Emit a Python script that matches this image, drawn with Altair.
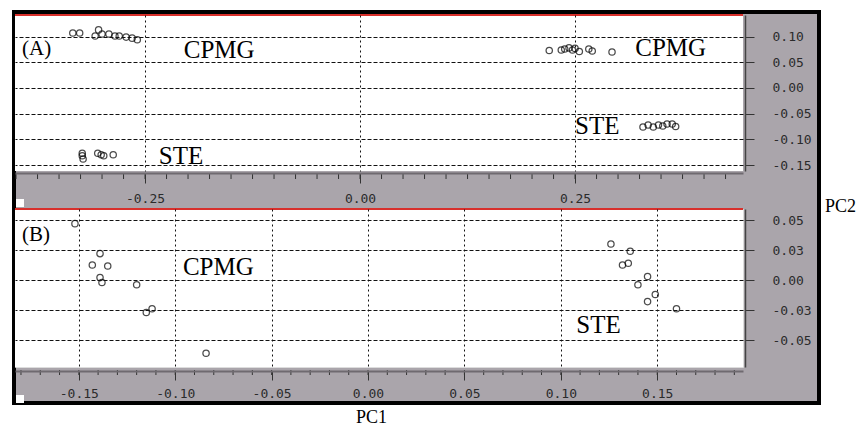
import altair as alt
import pandas as pd

# ---------------- data ----------------
# Panel A
A_CPMG_PC1 = [-0.334, -0.326, -0.308, -0.304, -0.300, -0.292, -0.285, -0.280, -0.272, -0.265, -0.259,
              0.220, 0.234, 0.238, 0.243, 0.247, 0.250, 0.255, 0.266, 0.270, 0.293]
A_CPMG_PC2 = [0.107, 0.107, 0.101, 0.113, 0.105, 0.105, 0.101, 0.101, 0.099, 0.097, 0.094,
              0.073, 0.074, 0.076, 0.078, 0.074, 0.077, 0.071, 0.076, 0.072, 0.070]
A_STE_PC1 = [-0.323, -0.323, -0.322, -0.305, -0.301, -0.298, -0.287,
             0.329, 0.335, 0.341, 0.347, 0.352, 0.357, 0.363, 0.367]
A_STE_PC2 = [-0.127, -0.132, -0.138, -0.127, -0.130, -0.132, -0.130,
             -0.076, -0.072, -0.076, -0.072, -0.074, -0.070, -0.070, -0.075]

# Panel B
B_CPMG_PC1 = [-0.152, -0.139, -0.143, -0.135, -0.139, -0.138, -0.120, -0.115, -0.112, -0.084]
B_CPMG_PC2 = [0.047, 0.022, 0.0125, 0.0117, 0.002, -0.002, -0.004, -0.027, -0.024, -0.061]
B_STE_PC1 = [0.126, 0.136, 0.132, 0.135, 0.145, 0.140, 0.149, 0.145, 0.160]
B_STE_PC2 = [0.030, 0.024, 0.0125, 0.014, 0.003, -0.004, -0.012, -0.018, -0.024]

# annotations
A_LABELS = ["(A)", "CPMG", "STE", "CPMG", "STE"]
A_LABEL_X = [-0.393, -0.205, -0.234, 0.320, 0.250]
A_LABEL_Y = [0.076, 0.073, -0.132, 0.077, -0.074]
A_LABEL_SIZE = [21, 25, 25, 25, 25]

B_LABELS = ["(B)", "CPMG", "STE"]
B_LABEL_X = [-0.1795, -0.096, 0.108]
B_LABEL_Y = [0.0375, 0.0108, -0.0375]
B_LABEL_SIZE = [21, 25, 25]

# ticks
A_X_MAJOR = [-0.25, 0.0, 0.25]
A_X_MINOR = [round(-0.4 + 0.025 * i, 3) for i in range(34)]
A_Y_TICKS = [-0.15, -0.10, -0.05, 0.0, 0.05, 0.10]
B_X_MAJOR = [-0.15, -0.10, -0.05, 0.0, 0.05, 0.10, 0.15]
B_X_MINOR = [round(-0.18 + 0.01 * i, 3) for i in range(38)]
B_Y_TICKS = [-0.05, -0.025, 0.0, 0.025, 0.05]

A_X_DOMAIN = [-0.4012, 0.4453]
A_Y_DOMAIN = [-0.1615, 0.142]
B_X_DOMAIN = [-0.1831, 0.1945]
B_Y_DOMAIN = [-0.0725, 0.0592]

# ---------------- style ----------------
W = 728
HA = 156
HB = 158
GRAY = "#aaa5ab"
RED = "#d8302c"
MONO = "DejaVu Sans Mono"
SERIF = "Liberation Serif"
LBL = "(datum.value < 0 ? '-' : '') + format(abs(datum.value), '.2f')"


def points_df(c1, c2, s1, s2):
    return pd.DataFrame({
        "pc1": c1 + s1,
        "pc2": c2 + s2,
        "grp": ["CPMG"] * len(c1) + ["STE"] * len(s1),
    })


def xaxis(values, offset, tick, pad, title=None, **kw):
    return alt.Axis(values=values, orient="bottom", offset=offset, grid=True,
                    gridDash=[2, 3], gridColor="#111", gridWidth=1,
                    tickSize=tick, tickColor="#333", tickWidth=1,
                    domainColor="#6f6a70", domainWidth=2,
                    labelExpr=LBL, labelFont=MONO, labelFontSize=13,
                    labelColor="#2b2b2b", labelPadding=pad,
                    labelFlush=False, labelOverlap=False, labelBound=False,
                    title=title, zindex=1, **kw)


def yaxis(values, title=None, **kw):
    return alt.Axis(values=values, orient="right", offset=2, grid=True,
                    gridDash=[4, 2], gridColor="#111", gridWidth=1,
                    tickSize=9, tickColor="#333", tickWidth=1,
                    domainColor="#444", domainWidth=1.5,
                    labelExpr=LBL, labelFont=MONO, labelFontSize=13,
                    labelColor="#2b2b2b", labelPadding=18, labelAlign="left",
                    labelBaseline="middle", labelOverlap=False, labelBound=False,
                    title=title, zindex=1, **kw)


one = pd.DataFrame({"k": [0]})


def panel(df, xs, ys, ax_x, ax_y, h, minor, labels, lx, ly, lsize, frame):
    layers = []
    if frame:
        layers.append(alt.Chart(one).mark_rect(fill=GRAY, stroke="black", strokeWidth=4).encode(
            x=alt.value(-1), x2=alt.value(804), y=alt.value(-3), y2=alt.value(388)))
    layers.append(alt.Chart(one).mark_rect(fill="white").encode(
        x=alt.value(0), x2=alt.value(W), y=alt.value(0), y2=alt.value(h)))
    layers.append(alt.Chart(one).mark_rect(fill="white").encode(
        x=alt.value(1), x2=alt.value(9), y=alt.value(h + 28), y2=alt.value(h + 36)))
    layers.append(alt.Chart(one).mark_rule(color=RED, strokeWidth=2).encode(
        x=alt.value(0), x2=alt.value(W), y=alt.value(0)))
    layers.append(alt.Chart(pd.DataFrame({"pc1": minor})).mark_rule(color="#333", strokeWidth=1).encode(
        x=alt.X("pc1:Q", scale=xs, axis=ax_x),
        y=alt.value(h + 3), y2=alt.value(h + 8)))
    layers.append(alt.Chart(df).mark_point(shape="circle", filled=False, color="black",
                                           size=40, strokeWidth=1.25).encode(
        x=alt.X("pc1:Q", scale=xs, axis=ax_x),
        y=alt.Y("pc2:Q", scale=ys, axis=ax_y)))
    tdf = pd.DataFrame({"label": labels, "pc1": lx, "pc2": ly, "s": lsize})
    layers.append(alt.Chart(tdf).mark_text(font=SERIF, align="left", baseline="middle",
                                           color="black").encode(
        x=alt.X("pc1:Q", scale=xs, axis=ax_x),
        y=alt.Y("pc2:Q", scale=ys, axis=ax_y),
        text="label:N",
        size=alt.Size("s:Q", scale=None, legend=None)))
    return alt.layer(*layers).properties(width=W, height=h)


sxA = alt.Scale(domain=A_X_DOMAIN, zero=False, nice=False)
syA = alt.Scale(domain=A_Y_DOMAIN, zero=False, nice=False)
sxB = alt.Scale(domain=B_X_DOMAIN, zero=False, nice=False)
syB = alt.Scale(domain=B_Y_DOMAIN, zero=False, nice=False)

panelA = panel(points_df(A_CPMG_PC1, A_CPMG_PC2, A_STE_PC1, A_STE_PC2), sxA, syA,
               xaxis(A_X_MAJOR, 2, 10, 9),
               yaxis(A_Y_TICKS, title="PC2", titleAngle=0, titleX=95, titleY=191,
                     titleFont=SERIF, titleFontSize=18, titleFontWeight="normal",
                     titleColor="black", titleAlign="center", titleBaseline="middle"),
               HA, A_X_MINOR, A_LABELS, A_LABEL_X, A_LABEL_Y, A_LABEL_SIZE, True)

panelB = panel(points_df(B_CPMG_PC1, B_CPMG_PC2, B_STE_PC1, B_STE_PC2), sxB, syB,
               xaxis(B_X_MAJOR, 4, 9, 7, title="PC1", titleX=356, titleY=46,
                     titleFont=SERIF, titleFontSize=18, titleFontWeight="normal",
                     titleColor="black", titleAlign="center", titleBaseline="middle"),
               yaxis(B_Y_TICKS),
               HB, B_X_MINOR, B_LABELS, B_LABEL_X, B_LABEL_Y, B_LABEL_SIZE, False)

chart = alt.vconcat(panelA, panelB, spacing=38, bounds="flush").properties(
    padding={"left": 3, "top": 1, "right": 0, "bottom": 0}
).configure_view(stroke=None).configure(background="white")

chart.save("out.html", embed_options={"renderer": "svg", "actions": False})
